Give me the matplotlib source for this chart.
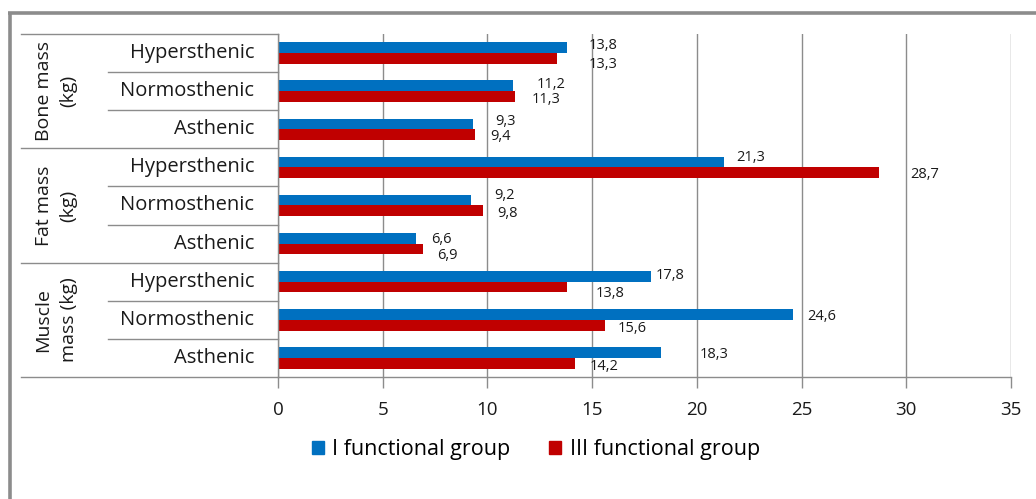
import matplotlib
matplotlib.use("Agg")
import matplotlib.pyplot as plt
from matplotlib.lines import Line2D
import matplotlib.transforms as mtransforms

# Data
groups = ["Bone mass\n(kg)", "Fat mass\n(kg)", "Muscle\nmass (kg)"]
body_types = ["Hypersthenic", "Normosthenic", "Asthenic"]
group_I = [13.8, 11.2, 9.3, 21.3, 9.2, 6.6, 17.8, 24.6, 18.3]
group_III = [13.3, 11.3, 9.4, 28.7, 9.8, 6.9, 13.8, 15.6, 14.2]
series_names = ["I functional group", "III functional group"]
x_ticks = [0, 5, 10, 15, 20, 25, 30, 35]

# Label offsets in pixels (dx from bar end, dy downwards from bar centre)
off_I = [(22, -2), (24, -1), (22, -2), (12, -5), (24, -5), (15, 1), (5, -1), (14, 2), (38, 2)]
off_III = [(32, 6), (17, 3), (15, 2), (31, 2), (14, 3), (15, 7), (29, 6), (13, 3), (14, 3)]

BLUE = "#0070C0"
RED = "#C00000"
GRAY = "#8C8C8C"
TXT = "#1a1a1a"
FONT = ["Open Sans", "DejaVu Sans"]

W, H = 1036, 499
fig = plt.figure(figsize=(W / 100, H / 100), dpi=100)
fig.patch.set_facecolor("white")

# outer frame (left and top edges)
fig.add_artist(Line2D([9.5 / W, 9.5 / W], [0, 1 - 13 / H], transform=fig.transFigure,
                      color=GRAY, lw=2.6, solid_capstyle="butt"))
fig.add_artist(Line2D([8.2 / W, 1], [1 - 13 / H, 1 - 13 / H], transform=fig.transFigure,
                      color=GRAY, lw=2.6, solid_capstyle="butt"))

left, right, top, bottom = 278, 1011, 34, 377
ax = fig.add_axes([left / W, 1 - bottom / H, (right - left) / W, (bottom - top) / H])

n = len(group_I)
ypos = list(range(n))
bh = 0.28
ax.barh([y - bh / 2 for y in ypos], group_I, height=bh, color=BLUE, label=series_names[0])
ax.barh([y + bh / 2 for y in ypos], group_III, height=bh, color=RED, label=series_names[1])

ax.set_xlim(0, 35)
ax.set_ylim(n - 0.5, -0.5)
ax.set_xticks(x_ticks)
ax.set_xticklabels([str(t) for t in x_ticks], fontsize=13.5, family=FONT, color=TXT)
ax.tick_params(axis="x", length=8, color=GRAY, width=1, pad=9)
ax.set_yticks([])
ax.grid(axis="x", color=GRAY, lw=1)
ax.set_axisbelow(True)
for s in ["top", "right"]:
    ax.spines[s].set_visible(False)
for s in ["left", "bottom"]:
    ax.spines[s].set_color(GRAY)
    ax.spines[s].set_linewidth(1)

# data labels
for i in range(n):
    for vals, offs, d in ((group_I, off_I, -1), (group_III, off_III, 1)):
        v = vals[i]
        dx, dy = offs[i]
        ax.annotate(f"{v:.1f}".replace(".", ","), xy=(v, i + d * bh / 2),
                    xytext=(dx, -dy), textcoords="offset pixels",
                    ha="left", va="center", fontsize=10.5, family=FONT, color=TXT)

# category axis: separators and labels
trans = mtransforms.blended_transform_factory(ax.transAxes, ax.transData)
axw = right - left
x_outer = (21 - left) / axw
x_inner = (108 - left) / axw
for b in range(n + 1):
    yb = b - 0.5
    x0 = x_outer if b % 3 == 0 else x_inner
    ax.plot([x0, 0], [yb, yb], transform=trans, color=GRAY, lw=1, clip_on=False)

for i in range(n):
    ax.text((254 - left) / axw, i, body_types[i % 3], transform=trans, ha="right", va="center",
            fontsize=14.5, family=FONT, color=TXT)

for g, name in enumerate(groups):
    ax.text((56 - left) / axw, g * 3 + 1, name, transform=trans, ha="center", va="center",
            rotation=90, fontsize=14, family=FONT, color=TXT, linespacing=1.5,
            multialignment="center")

# legend
handles = [plt.Rectangle((0, 0), 1, 1, color=BLUE), plt.Rectangle((0, 0), 1, 1, color=RED)]
fig.legend(handles, series_names, loc="center", bbox_to_anchor=(536 / W, 1 - 450 / H),
           ncol=2, frameon=False, prop={"family": FONT, "size": 15.5},
           handlelength=0.55, handleheight=0.55, handletextpad=0.4, columnspacing=1.8)

fig.savefig("out.png", dpi=100, facecolor="white")
